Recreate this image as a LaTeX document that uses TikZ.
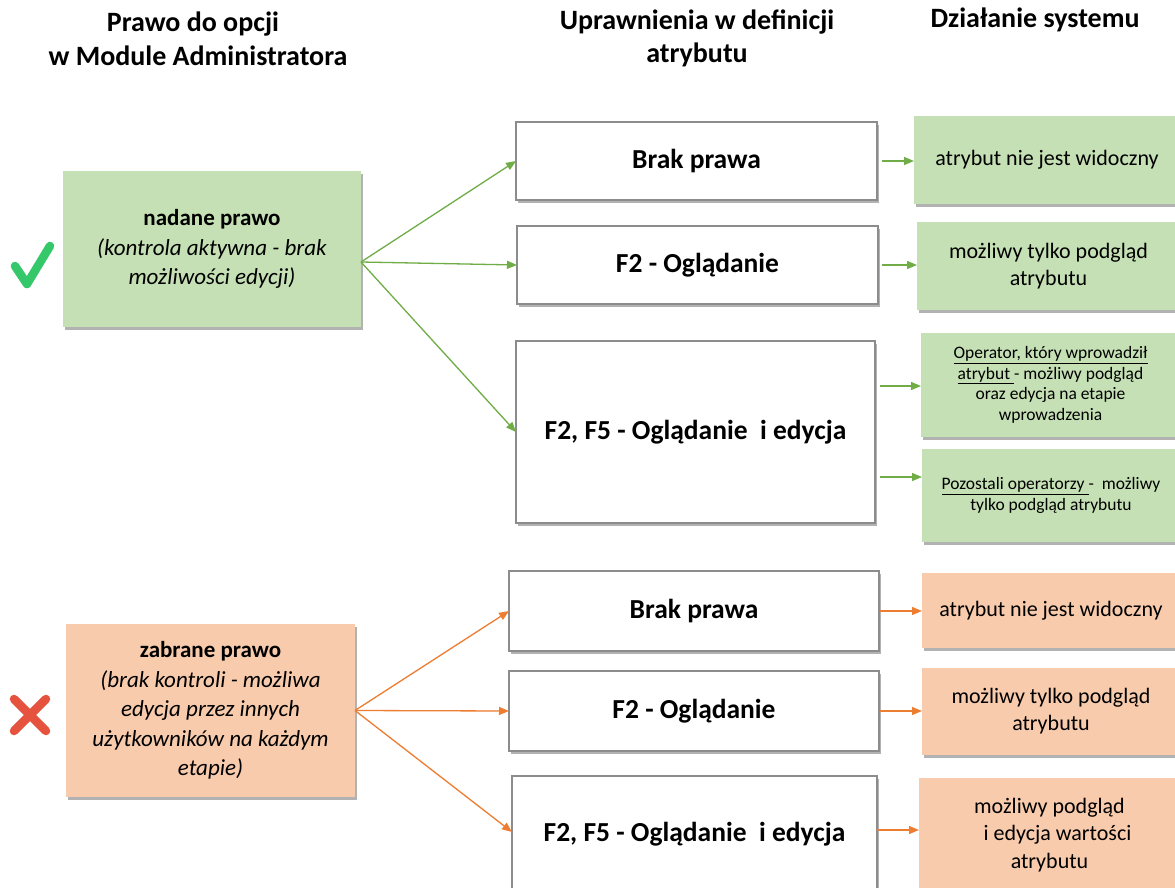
\documentclass[tikz,border=0pt]{standalone}
\usepackage{fontspec}
\setmainfont{Carlito}
\usetikzlibrary{arrows.meta,shadows}
\definecolor{lgreen}{HTML}{C5E0B4}
\definecolor{lorange}{HTML}{F8CBAD}
\definecolor{agreen}{HTML}{70AD47}
\definecolor{aorange}{HTML}{ED7D31}
\definecolor{bordergray}{HTML}{8C8C8C}
\definecolor{checkgreen}{HTML}{35C86B}
\definecolor{crossred}{HTML}{E5533F}
\begin{document}
\begin{tikzpicture}[x=1pt,y=1pt,
  shad/.style={drop shadow={shadow xshift=2pt,shadow yshift=-3pt,opacity=0.3,fill=black}},
  box/.style={rectangle,inner sep=0pt,outer sep=0pt,align=center,shad},
  whitebox/.style={box,fill=white,draw=bordergray,line width=1.5pt,font=\fontsize{27.5}{33}\selectfont\bfseries},
  gbox/.style={box,fill=lgreen},
  obox/.style={box,fill=lorange},
  leftfont/.style={font=\fontsize{23}{29.5}\selectfont},
  rfont/.style={font=\fontsize{22}{27}\selectfont},
  sfont/.style={font=\fontsize{17.5}{20.5}\selectfont},
  head/.style={font=\fontsize{28}{34}\selectfont\bfseries,inner sep=0pt,anchor=base},
  garrow/.style={draw=agreen,line width=1.3pt,-{Triangle[length=10pt,width=8pt]},fill=agreen},
  oarrow/.style={draw=aorange,line width=1.3pt,-{Triangle[length=10pt,width=8pt]},fill=aorange},
  sz/.style 2 args={minimum width=#1,minimum height=#2}
]
\useasboundingbox[fill=white] (0,0) rectangle (1175,-888);

% headers
\node[head] (h1a) at (193,-32) {Prawo do opcji};
\node[head] (h1b) at (198,-66) {w Module Administratora};
\node[head] (h2a) at (697,-30) {Uprawnienia w definicji};
\node[head] (h2b) at (697,-63) {atrybutu};
\node[head] (h3) at (1035,-28) {Działanie systemu};

% ---------- top group ----------
\node[gbox,leftfont,sz={298pt}{156pt}] (G) at (212,-249)
  {\textbf{nadane prawo}\\ \textit{(kontrola aktywna - brak}\\ \textit{możliwości edycji)}};
\node[whitebox,sz={361pt}{78pt}] (M1) at (696.5,-161) {Brak prawa};
\node[whitebox,sz={361pt}{78pt}] (M2) at (697.5,-265) {F2 - Oglądanie};
\node[whitebox,sz={359pt}{182pt}] (M3) at (695.5,-432) {F2, F5 - Oglądanie\ \ i edycja};

\node[gbox,rfont,sz={266pt}{88pt}] (R1) at (1047,-160) {atrybut nie jest widoczny};
\node[gbox,rfont,sz={263pt}{88pt}] (R2) at (1048.5,-266) {możliwy tylko podgląd\\atrybutu};
\node[gbox,sfont,sz={259pt}{104pt}] (R3) at (1050.5,-385)
  {\underline{Operator, który wprowadził}\\ \underline{atrybut\ }- możliwy podgląd\\ oraz edycja na etapie\\ wprowadzenia};
\node[gbox,sfont,sz={258pt}{93pt}] (R4) at (1051,-495.5)
  {\underline{Pozostali operatorzy\ }-\ \ możliwy\\ tylko podgląd atrybutu};

% check mark
\draw[checkgreen,line width=8.5pt,line cap=round,line join=round] (15,-266) -- (27,-284) -- (50,-246);

\coordinate (gs) at (361,-262);
\draw[garrow] (gs) -- (M1.west);
\draw[garrow] (gs) -- (M2.west);
\draw[garrow] (gs) -- (M3.west);
\draw[garrow,shorten <=5pt] (M1.east) -- (M1.east -| R1.west);
\draw[garrow,shorten <=4pt] (M2.east) -- (M2.east -| R2.west);
\coordinate (t3) at (880,-386);
\coordinate (t4) at (880,-477);
\draw[garrow] (t3) -- (t3 -| R3.west);
\draw[garrow] (t4) -- (t4 -| R4.west);

% ---------- bottom group ----------
\node[obox,leftfont,sz={289pt}{173pt}] (O) at (210.5,-710.5)
  {\textbf{zabrane prawo}\\ \textit{(brak kontroli - możliwa}\\ \textit{edycja przez innych}\\ \textit{użytkowników na każdym}\\ \textit{etapie)}};
\node[whitebox,sz={370pt}{80pt}] (B1) at (694,-611) {Brak prawa};
\node[whitebox,sz={370pt}{80pt}] (B2) at (694,-711) {F2 - Oglądanie};
\node[whitebox,sz={365pt}{116pt}] (B3) at (694.5,-834) {F2, F5 - Oglądanie\ \ i edycja};

\node[obox,rfont,sz={258pt}{75pt}] (O1) at (1051,-610.5) {atrybut nie jest widoczny};
\node[obox,rfont,sz={258pt}{87pt}] (O2) at (1051,-711.5) {możliwy tylko podgląd\\atrybutu};
\node[obox,font=\fontsize{22}{27.5}\selectfont,sz={261pt}{114pt}] (O3) at (1049.5,-835)
  {możliwy podgląd\\ \hspace*{16pt}i edycja wartości\\ atrybutu};

% cross
\draw[crossred,line width=8.5pt,line cap=round] (14,-699) -- (46,-731);
\draw[crossred,line width=8.5pt,line cap=round] (14,-731) -- (46,-699);

\draw[oarrow] (O.east) -- (B1.west);
\draw[oarrow] (O.east) -- (B2.west);
\coordinate (b3in) at (512,-832);
\draw[oarrow] (O.east) -- (b3in);
\draw[oarrow,shorten <=1pt] (B1.east) -- (B1.east -| O1.west);
\draw[oarrow,shorten <=1pt] (B2.east) -- (B2.east -| O2.west);
\coordinate (b3out) at (877,-830);
\draw[oarrow] (b3out) -- (b3out -| O3.west);
\end{tikzpicture}
\end{document}
